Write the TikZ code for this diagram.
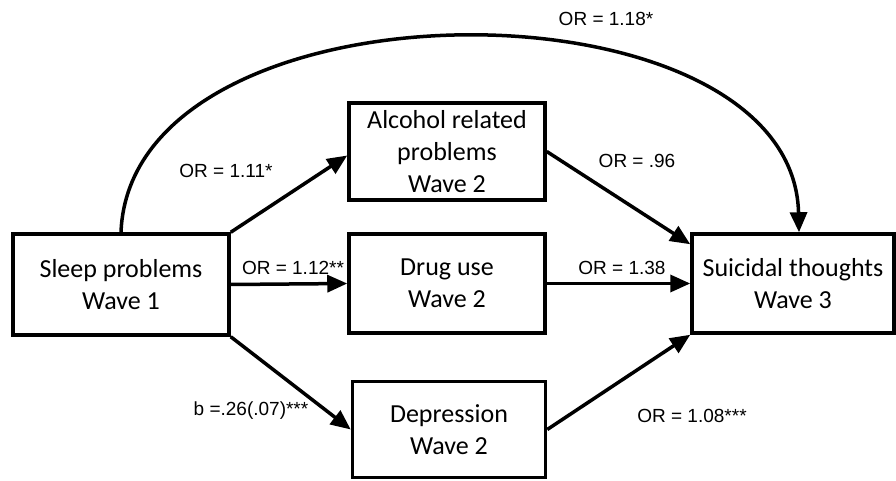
\documentclass[tikz,border=0pt]{standalone}
\usepackage{fontspec}
\setmainfont{Carlito}
\newfontfamily\labfont{Liberation Sans}
\usetikzlibrary{arrows.meta,calc}
\begin{document}
\begin{tikzpicture}[x=1pt,y=-1pt,
  box/.style={draw,line width=3.5pt,rectangle,align=center,font=\fontsize{26}{32}\selectfont,inner sep=0pt},
  conn/.style={line width=3.5pt,-{Triangle[length=20pt,width=17pt]}},
  lab/.style={font=\labfont\fontsize{19}{21}\selectfont,inner sep=0pt}]
\useasboundingbox (0,0) rectangle (896,481);
\node[box,minimum width=216pt,minimum height=101pt] (sleep) at (121,284.5) {Sleep problems\\Wave 1};
\node[box,minimum width=202pt,minimum height=99pt] (sui) at (793,283.5) {Suicidal thoughts\\Wave 3};
\node[box,minimum width=196pt,minimum height=97pt] (alc) at (447,151.5) {Alcohol related\\problems\\Wave 2};
\node[box,minimum width=196pt,minimum height=99pt] (drug) at (447,283.5) {Drug use\\Wave 2};
\node[box,minimum width=193pt,minimum height=96pt] (dep) at (449,429.5) {Depression\\Wave 2};
\draw[conn] (sleep.north) .. controls ($(sleep.north)+(10,-260)$) and ($(sui.north)+(0,-260)$) .. ($(sui.north)+(6,0)$);
\draw[conn] (sleep.north east) -- ($(alc.west)+(0,4)$);
\draw[conn] (sleep.east) -- (drug.west);
\draw[conn] (sleep.south east) -- (dep.west);
\draw[conn] (alc.east) -- ($(sui.north west)+(0,12)$);
\draw[conn] (drug.east) -- (sui.west);
\draw[conn] (dep.east) -- (sui.south west);
\node[lab] (l1) at (606,19) {OR = 1.18*};
\node[lab] (l2) at (226,171) {OR = 1.11*};
\node[lab] (l3) at (293,268) {OR = 1.12**};
\node[lab] (l4) at (251,411) {b =.26(.07)***};
\node[lab] (l5) at (637,161) {OR = .96};
\node[lab] (l6) at (622,268) {OR = 1.38};
\node[lab] (l7) at (692,416) {OR = 1.08***};
\end{tikzpicture}
\end{document}
